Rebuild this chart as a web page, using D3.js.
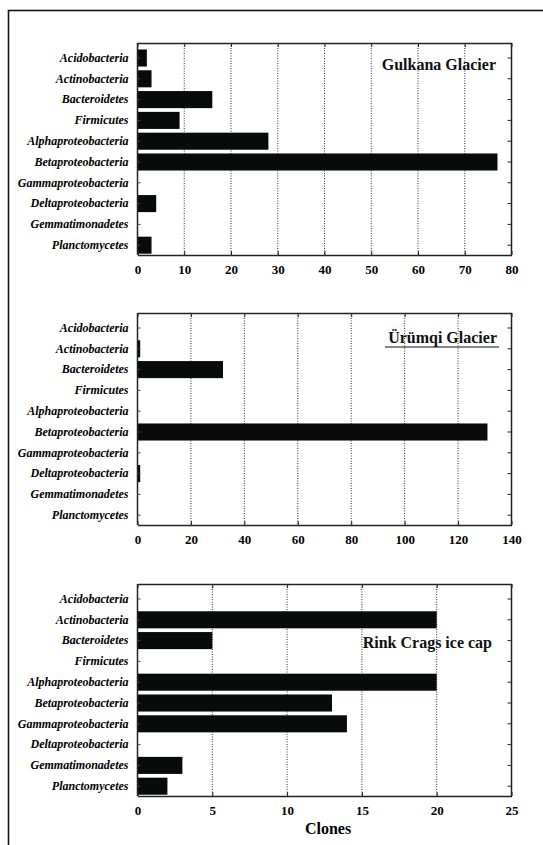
<!DOCTYPE html>
<html>
<head>
<meta charset="utf-8">
<script src="https://cdn.jsdelivr.net/npm/d3@7"></script>
<style>
  body { margin: 0; background: #fff; }
</style>
</head>
<body>
<div id="chart"></div>
<script>
// categories, top to bottom
var categories = ["Acidobacteria", "Actinobacteria", "Bacteroidetes", "Firmicutes",
    "Alphaproteobacteria", "Betaproteobacteria", "Gammaproteobacteria",
    "Deltaproteobacteria", "Gemmatimonadetes", "Planctomycetes"];

// clone counts per site
var gulkanaValues = [2, 3, 16, 9, 28, 77, 0, 4, 0, 3];
var urumqiValues  = [0, 1, 32, 0, 0, 131, 0, 1, 0, 0];
var rinkValues    = [0, 20, 5, 0, 20, 13, 14, 0, 3, 2];

// x tick labels per panel
var gulkanaTicks = [0, 10, 20, 30, 40, 50, 60, 70, 80];
var urumqiTicks  = [0, 20, 40, 60, 80, 100, 120, 140];
var rinkTicks    = [0, 5, 10, 15, 20, 25];

var panelTitles = ["Gulkana Glacier", "\u00dcr\u00fcmqi Glacier", "Rink Crags ice cap"];
var xLabel = "Clones";

var serif = "'Times New Roman', 'Liberation Serif', 'DejaVu Serif', serif";

function init() {
    var w = 543, h = 845;
    var left = 137.5, right = 511.5, ph = 212;

    var svg = d3.select("#chart").append("svg")
        .attr("width", w)
        .attr("height", h);

    // outer frame (runs off the right and bottom)
    svg.append("rect")
        .attr("x", 8.5).attr("y", 10.5)
        .attr("width", 600).attr("height", 900)
        .attr("fill", "none")
        .attr("stroke", "#111")
        .attr("stroke-width", 1.6);

    var panels = [
        { top: 43,  values: gulkanaValues, ticks: gulkanaTicks, title: panelTitles[0], tx: 496, ty: 70, underline: false },
        { top: 313, values: urumqiValues,  ticks: urumqiTicks,  title: panelTitles[1], tx: 497, ty: 343, underline: true },
        { top: 584, values: rinkValues,    ticks: rinkTicks,    title: panelTitles[2], tx: 492, ty: 648, underline: false }
    ];

    panels.forEach(function(p) {
        var top = p.top, bottom = p.top + ph;
        var g = svg.append("g");

        var xScale = d3.scaleLinear()
            .domain([0, d3.max(p.ticks)])
            .range([left, right]);

        var yScale = d3.scaleBand()
            .domain(categories)
            .range([top + 4.6, bottom + 0.6])
            .paddingInner(0.18)
            .paddingOuter(0.09);

        // dotted grid lines
        g.selectAll("line.grid")
            .data(p.ticks.slice(1, -1))
            .enter()
            .append("line")
            .attr("class", "grid")
            .attr("x1", function(d) { return xScale(d); })
            .attr("x2", function(d) { return xScale(d); })
            .attr("y1", top)
            .attr("y2", bottom)
            .attr("stroke", "#333")
            .attr("stroke-width", 1)
            .attr("stroke-dasharray", "1,1.5");

        // bars
        g.selectAll("rect.bar")
            .data(p.values)
            .enter()
            .append("rect")
            .attr("class", "bar")
            .attr("x", xScale(0))
            .attr("y", function(d, i) { return yScale(categories[i]); })
            .attr("width", function(d) { return xScale(d) - xScale(0); })
            .attr("height", yScale.bandwidth())
            .attr("fill", "#070b0a");

        // bottom axis with labels, ticks pointing in
        var xAxis = d3.axisBottom(xScale)
            .tickValues(p.ticks)
            .tickSizeInner(-4)
            .tickSizeOuter(0)
            .tickPadding(10);

        var ax = g.append("g")
            .attr("transform", "translate(0," + bottom + ")")
            .call(xAxis);
        ax.select(".domain").attr("stroke", "#222").attr("stroke-width", 1.5);
        ax.selectAll(".tick line").attr("stroke", "#222");
        ax.selectAll("text")
            .style("font-family", serif)
            .style("font-size", "13px")
            .style("font-weight", "bold")
            .attr("fill", "#000");

        // top axis, ticks only
        var topAxis = d3.axisTop(xScale)
            .tickValues(p.ticks)
            .tickSizeInner(-4)
            .tickSizeOuter(0)
            .tickFormat("");
        var at = g.append("g")
            .attr("transform", "translate(0," + top + ")")
            .call(topAxis);
        at.select(".domain").attr("stroke", "#222").attr("stroke-width", 1.5);
        at.selectAll(".tick line").attr("stroke", "#222");

        // left axis with category names
        var yAxis = d3.axisLeft(yScale)
            .tickSizeInner(-3)
            .tickSizeOuter(0)
            .tickPadding(9);
        var al = g.append("g")
            .attr("transform", "translate(" + left + ",0)")
            .call(yAxis);
        al.select(".domain").attr("stroke", "#222").attr("stroke-width", 1.5)
            .attr("d", "M0," + top + "V" + bottom);
        al.selectAll(".tick line").attr("stroke", "#444");
        al.selectAll("text")
            .style("font-family", serif)
            .style("font-size", "12px")
            .style("font-weight", "bold")
            .style("font-style", "italic")
            .attr("fill", "#000");

        // right axis, ticks only
        var rAxis = d3.axisRight(yScale)
            .tickSizeInner(-4)
            .tickSizeOuter(0)
            .tickFormat("");
        var ar = g.append("g")
            .attr("transform", "translate(" + right + ",0)")
            .call(rAxis);
        ar.select(".domain").attr("stroke", "#222").attr("stroke-width", 1.5)
            .attr("d", "M0," + top + "V" + bottom);
        ar.selectAll(".tick line").attr("stroke", "#222");

        // panel title
        g.append("text")
            .attr("x", p.tx)
            .attr("y", p.ty)
            .attr("text-anchor", "end")
            .style("font-family", serif)
            .style("font-size", "16px")
            .style("font-weight", "bold")
            .attr("fill", "#111")
            .text(p.title);

        if (p.underline) {
            g.append("line")
                .attr("x1", 385).attr("x2", 499)
                .attr("y1", p.ty + 4).attr("y2", p.ty + 4)
                .attr("stroke", "#111")
                .attr("stroke-width", 1.2);
        }
    });

    // x axis title
    svg.append("text")
        .attr("x", 328)
        .attr("y", 834)
        .attr("text-anchor", "middle")
        .style("font-family", serif)
        .style("font-size", "16px")
        .style("font-weight", "bold")
        .attr("fill", "#000")
        .text(xLabel);
}
window.onload = init;
</script>
</body>
</html>
